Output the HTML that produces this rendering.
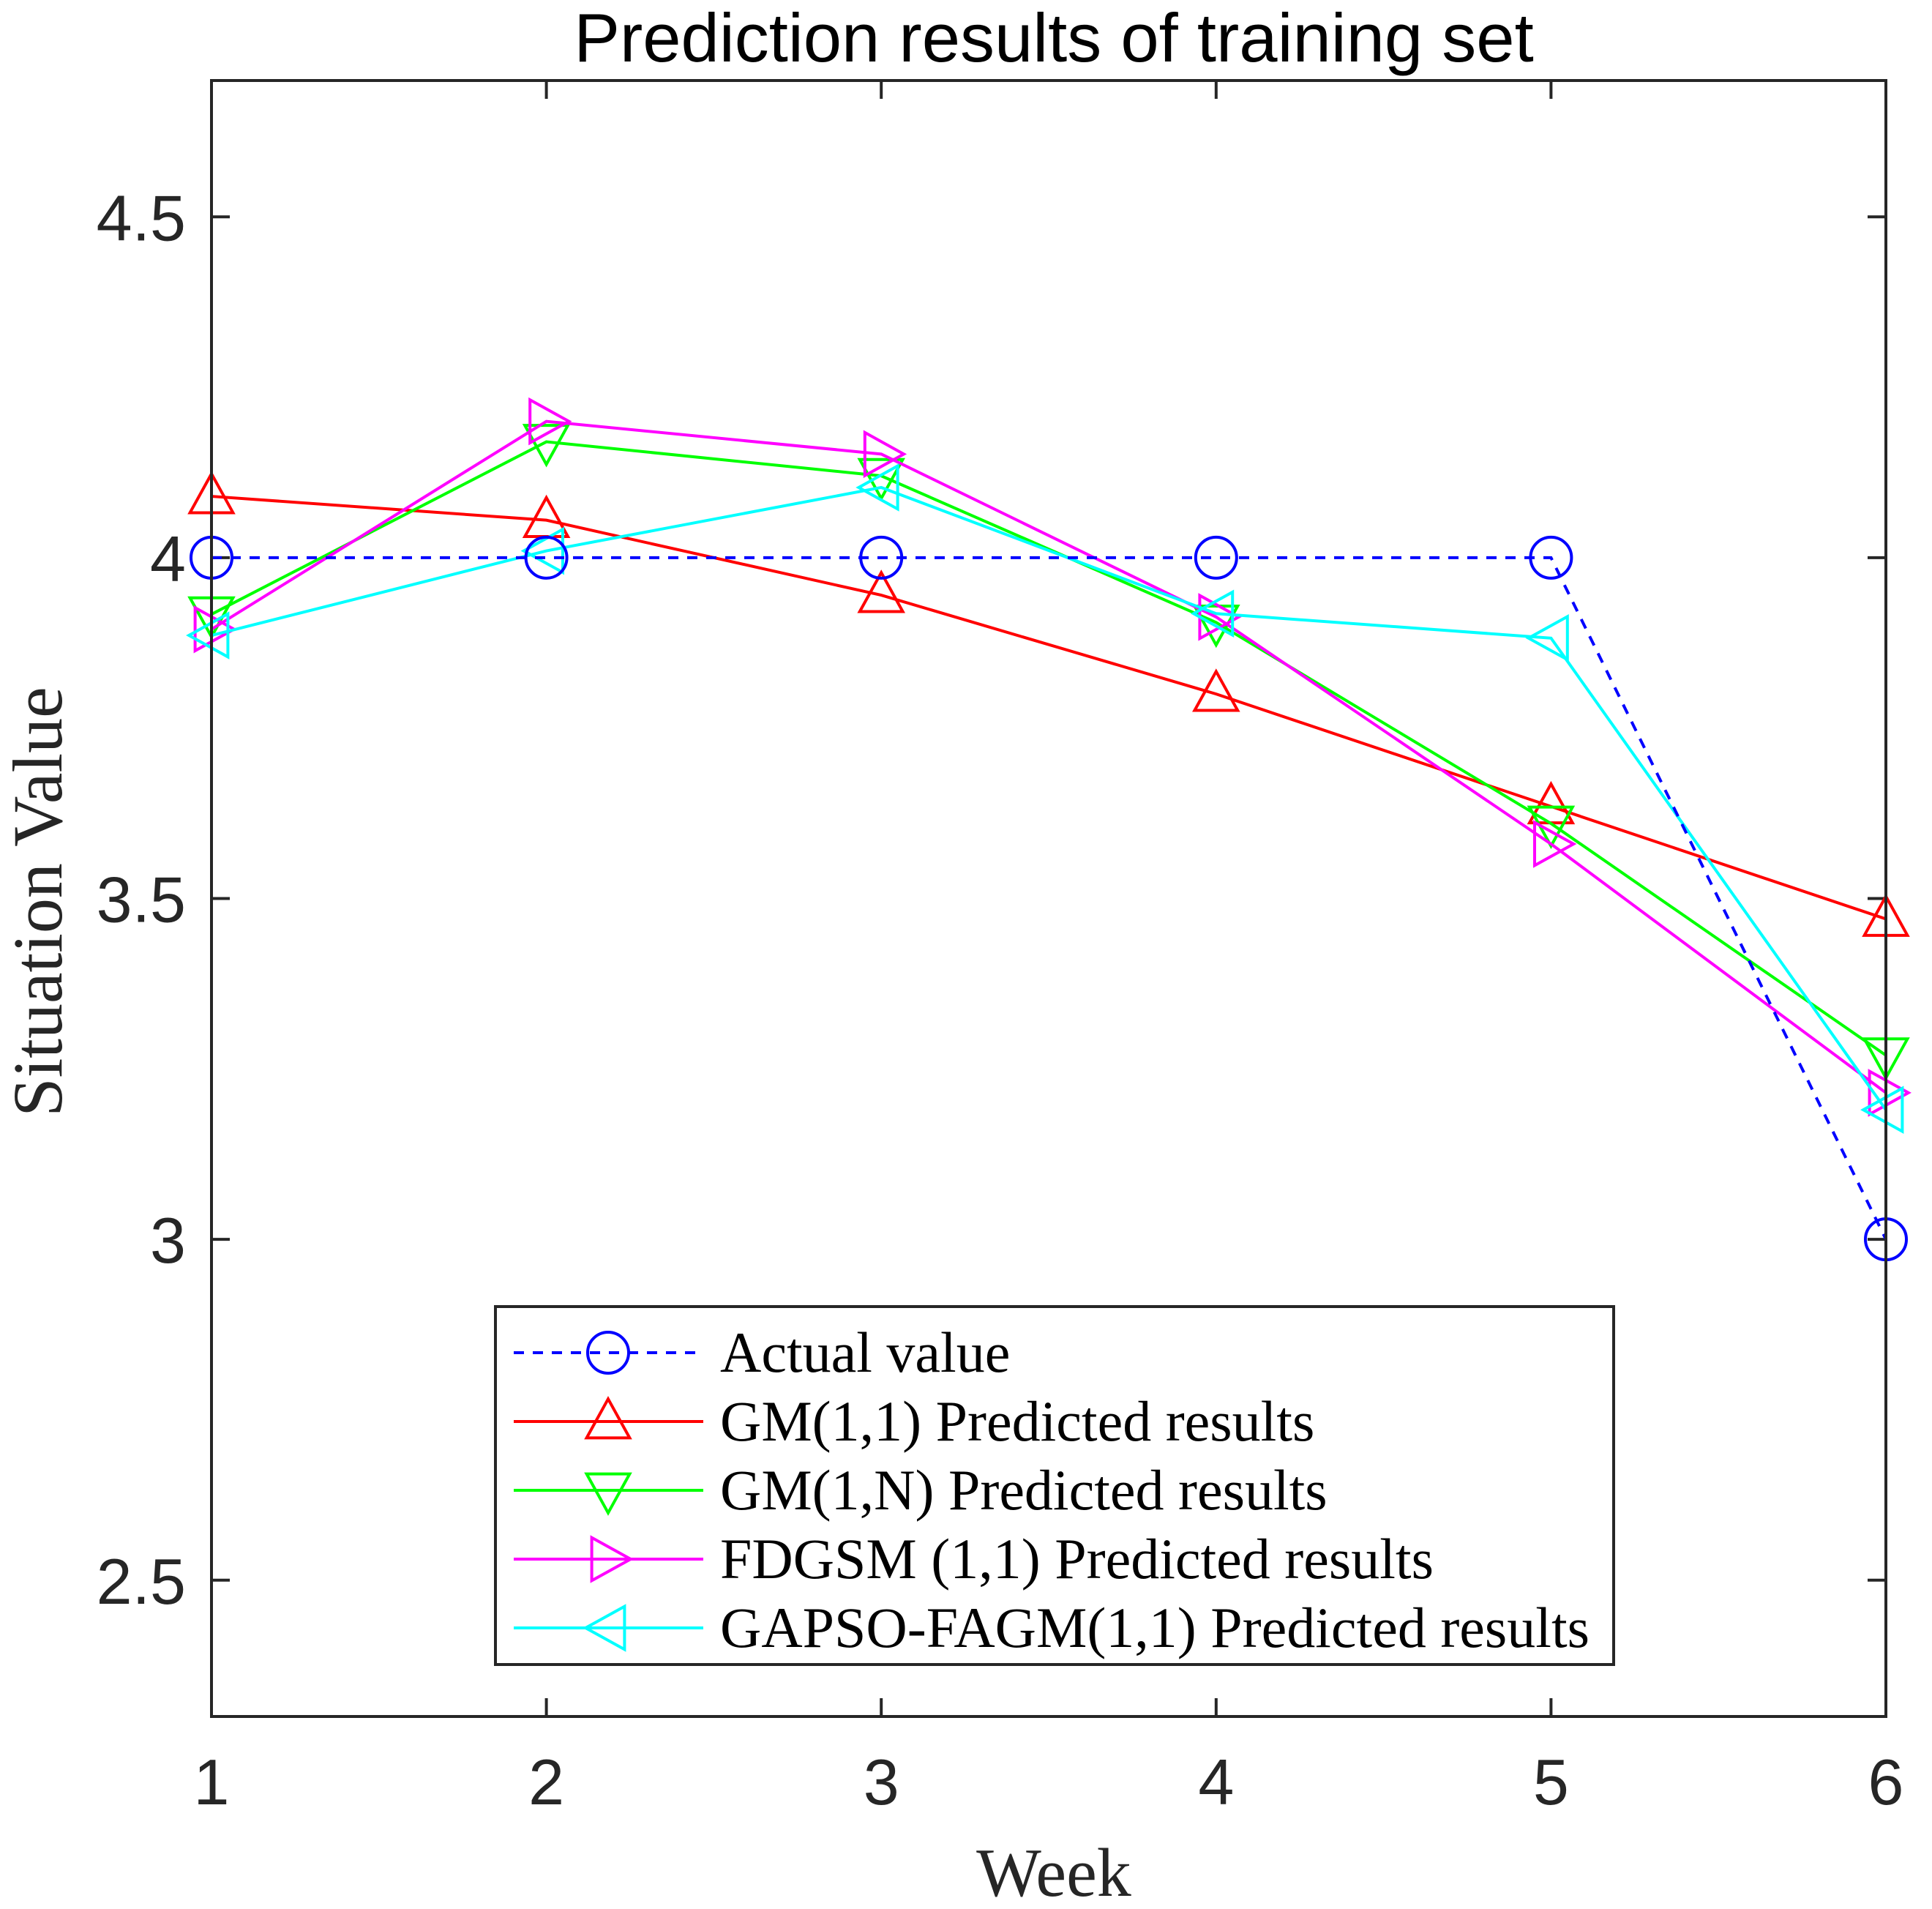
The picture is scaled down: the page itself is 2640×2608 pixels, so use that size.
<!DOCTYPE html>
<html><head><meta charset="utf-8"><style>
html,body{margin:0;padding:0;background:#fff;}
svg{display:block;}
</style></head><body>
<svg id="chart" width="2640" height="2608" viewBox="0 0 2640 2608" xmlns="http://www.w3.org/2000/svg">
<rect x="0" y="0" width="2640" height="2608" fill="#fff"/>
<text x="1440" y="84" font-family="Liberation Sans, sans-serif" font-size="94" text-anchor="middle" fill="#000">Prediction results of training set</text>
<g id="axes"></g>
<g id="series"></g>
<rect x="289" y="110" width="2288" height="2235" fill="none" stroke="#262626" stroke-width="4"/>
<text transform="translate(84,1232) rotate(-90)" font-family="Liberation Serif, serif" font-size="96" text-anchor="middle" fill="#262626">Situation Value</text>
<text x="1440" y="2590" font-family="Liberation Serif, serif" font-size="94" text-anchor="middle" fill="#262626">Week</text>
<g id="legend"></g>
</svg>
<script>
const weeks = [1, 2, 3, 4, 5, 6];
const actualValues = [4, 4, 4, 4, 4, 3];
const gm11Values = [4.09, 4.055, 3.945, 3.80, 3.635, 3.47];
const gm1nValues = [3.917, 4.17, 4.12, 3.905, 3.61, 3.27];
const fdgsmValues = [3.895, 4.2, 4.152, 3.913, 3.58, 3.215];
const gapsoValues = [3.886, 4.01, 4.103, 3.918, 3.882, 3.19];
const xTickLabels = ["1", "2", "3", "4", "5", "6"];
const yTickValues = [2.5, 3, 3.5, 4, 4.5];
const yTickLabels = ["2.5", "3", "3.5", "4", "4.5"];
const seriesNames = ["Actual value", "GM(1,1) Predicted results", "GM(1,N) Predicted results", "FDGSM (1,1) Predicted results", "GAPSO-FAGM(1,1) Predicted results"];

const NS = "http://www.w3.org/2000/svg";
const X0 = 289, X1 = 2577, Y0 = 110, Y1 = 2345;
const xMin = 1, xMax = 6, yMin = 2.3, yMax = 4.7;
function xs(v){ return X0 + (v - xMin) / (xMax - xMin) * (X1 - X0); }
function ys(v){ return Y1 - (v - yMin) / (yMax - yMin) * (Y1 - Y0); }
function mk(tag, attrs, parent){ const e = document.createElementNS(NS, tag); for (const k in attrs) e.setAttribute(k, attrs[k]); parent.appendChild(e); return e; }

const axes = document.getElementById('axes');
weeks.forEach((w, i) => {
  const x = xs(w);
  const t1 = mk('line', {x1:x, y1:Y1, x2:x, y2:Y1-25, stroke:'#262626', 'stroke-width':4}, axes);
  
  
  const t2 = mk('line', {x1:x, y1:Y0, x2:x, y2:Y0+25, stroke:'#262626', 'stroke-width':4}, axes);
  
  
  const lb = mk('text', {x:x, y:2465, 'font-family':'Liberation Sans, sans-serif', 'font-size':88, 'text-anchor':'middle', fill:'#262626'}, axes);
  lb.textContent = xTickLabels[i];
  
  
});
yTickValues.forEach((v, i) => {
  const y = ys(v);
  const t1 = mk('line', {x1:X0, y1:y, x2:X0+25, y2:y, stroke:'#262626', 'stroke-width':4}, axes);
  
  
  const t2 = mk('line', {x1:X1, y1:y, x2:X1-25, y2:y, stroke:'#262626', 'stroke-width':4}, axes);
  
  
  const lb = mk('text', {x:254, y:y+32, 'font-family':'Liberation Sans, sans-serif', 'font-size':88, 'text-anchor':'end', fill:'#262626'}, axes);
  lb.textContent = yTickLabels[i];
  
  
});

function marker(type, cx, cy, color, parent){
  const r = 28;
  let e;
  if (type === 'circle') e = mk('circle', {cx:cx, cy:cy, r:r, fill:'none', stroke:color, 'stroke-width':4}, parent);
  else {
    let pts;
    if (type === 'up') pts = [[cx, cy-r*1.1],[cx-r*1.05, cy+r*0.8],[cx+r*1.05, cy+r*0.8]];
    else if (type === 'down') pts = [[cx, cy+r*1.1],[cx-r*1.05, cy-r*0.8],[cx+r*1.05, cy-r*0.8]];
    else if (type === 'right') pts = [[cx+r*1.1, cy],[cx-r*0.8, cy-r*1.05],[cx-r*0.8, cy+r*1.05]];
    else pts = [[cx-r*1.1, cy],[cx+r*0.8, cy-r*1.05],[cx+r*0.8, cy+r*1.05]];
    e = mk('polygon', {points: pts.map(p => p.join(',')).join(' '), fill:'none', stroke:color, 'stroke-width':4}, parent);
  }
  return e;
}

const seriesDefs = [
  {vals: actualValues, color:'#0000ff', m:'circle', dash:'14,12', key:'actual'},
  {vals: gm11Values, color:'#ff0000', m:'up', dash:null, key:'gm11'},
  {vals: gm1nValues, color:'#00ff00', m:'down', dash:null, key:'gm1n'},
  {vals: fdgsmValues, color:'#ff00ff', m:'right', dash:null, key:'fdgsm'},
  {vals: gapsoValues, color:'#00ffff', m:'left', dash:null, key:'gapso'}
];
const sg = document.getElementById('series');
const drawOrder = [1, 2, 3, 4, 0];
drawOrder.forEach(si => {
  const s = seriesDefs[si];
  const g = mk('g', {}, sg);
  
  
  const pts = weeks.map((w, i) => xs(w) + ',' + ys(s.vals[i])).join(' ');
  const pl = mk('polyline', {points: pts, fill:'none', stroke:s.color, 'stroke-width':4}, g);
  if (s.dash) pl.setAttribute('stroke-dasharray', s.dash);
  
  
  weeks.forEach((w, i) => {
    const m = marker(s.m, xs(w), ys(s.vals[i]), s.color, g);
    
    
  });
});

const lg = document.getElementById('legend');
const box = mk('rect', {x:677, y:1785, width:1528, height:489, fill:'#fff', stroke:'#262626', 'stroke-width':4}, lg);


seriesDefs.forEach((s, i) => {
  const y = 1848 + i * 94;
  const g = mk('g', {}, lg);
  
  
  const ln = mk('line', {x1:702, y1:y, x2:961, y2:y, stroke:s.color, 'stroke-width':4}, g);
  if (s.dash) ln.setAttribute('stroke-dasharray', s.dash);
  
  
  const m = marker(s.m, 831, y, s.color, g);
  
  
  const t = mk('text', {x:984, y:y+26, 'font-family':'Liberation Serif, serif', 'font-size':78, fill:'#000'}, g);
  t.textContent = seriesNames[i];
  
  
});
</script>
</body></html>
